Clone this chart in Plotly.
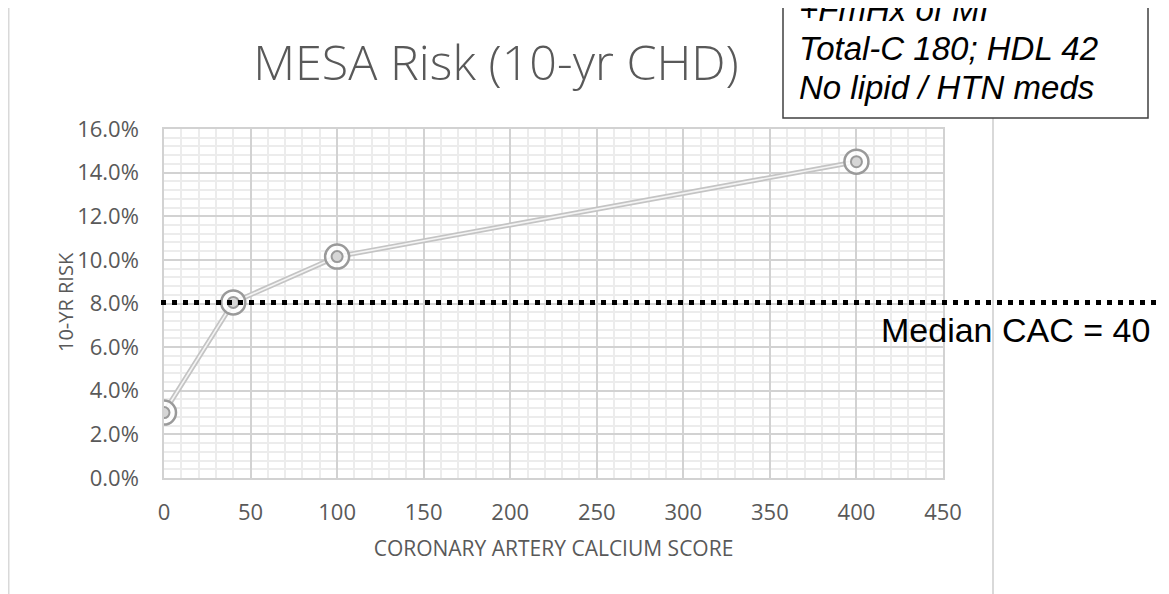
import plotly.graph_objects as go

# ---- data ----
cac_scores = [0, 40, 100, 400]
risk_10yr = [0.030, 0.0805, 0.1015, 0.145]
median_line_risk = 0.0805
median_label = "Median CAC = 40"
info_lines = ["+FmHx of MI", "Total-C 180; HDL 42", "No lipid / HTN meds"]
chart_title = "MESA Risk (10-yr CHD)"
x_title = "CORONARY ARTERY CALCIUM SCORE"
y_title = "10-YR RISK"

OFF = 8  # page body margin
W, H = 1169 - OFF, 594 - OFF
L, R, T, B = 164 - OFF, 943 - OFF, 129 - OFF, 478 - OFF  # plot area pixels


def px(xpix):
    return (xpix - OFF - L) / (R - L)


def py(ypix):
    return (B - (ypix - OFF)) / (B - T)


grey_txt = "#595959"
fig = go.Figure()

# double-line effect
fig.add_trace(go.Scatter(x=cac_scores, y=risk_10yr, mode="lines",
                         line=dict(color="#c4c4c4", width=5), hoverinfo="skip", showlegend=False))
fig.add_trace(go.Scatter(x=cac_scores, y=risk_10yr, mode="lines",
                         line=dict(color="#f4f4f4", width=1.6), hoverinfo="skip", showlegend=False))
# concentric ring markers
fig.add_trace(go.Scatter(x=cac_scores, y=risk_10yr, mode="markers",
                         marker=dict(symbol="circle", size=24, color="rgba(255,255,255,0.85)",
                                     line=dict(color="#9a9a9a", width=2.5)),
                         showlegend=False))
fig.add_trace(go.Scatter(x=cac_scores, y=risk_10yr, mode="markers",
                         marker=dict(symbol="circle", size=11, color="#d6d6d6",
                                     line=dict(color="#9a9a9a", width=2)),
                         showlegend=False))

shapes = [
    # outer chart frame
    dict(type="rect", xref="paper", yref="paper", x0=px(8.5), x1=px(993), y0=-0.6, y1=py(7),
         line=dict(color="#d9d9d9", width=2), fillcolor="rgba(0,0,0,0)", layer="above"),
    # dotted median line
    dict(type="line", xref="paper", yref="y", x0=px(161), x1=1.35,
         y0=median_line_risk, y1=median_line_risk,
         line=dict(color="black", width=5, dash="5px,6px"), layer="above"),
    # info box
    dict(type="rect", xref="paper", yref="paper", x0=px(783), x1=px(1148), y0=py(118), y1=py(-20),
         line=dict(color="#404040", width=1.5), fillcolor="white", layer="above"),
]

annotations = [
    dict(xref="paper", yref="paper", x=px(879), y=py(330), xanchor="left", yanchor="middle",
         text=median_label, showarrow=False,
         font=dict(family="Liberation Sans, Arial", size=34, color="black")),
    # y axis title
    dict(xref="paper", yref="paper", x=px(65), y=py(302), xanchor="center", yanchor="middle",
         text=y_title, textangle=-90, showarrow=False,
         font=dict(family="Open Sans", size=20, color=grey_txt)),
]
info_centers = [9, 48, 87]
for line_txt, yc in zip(info_lines, info_centers):
    annotations.append(dict(xref="paper", yref="paper", x=px(797), y=py(yc),
                            xanchor="left", yanchor="middle", align="left",
                            text=f"<i>{line_txt}</i>", showarrow=False,
                            font=dict(family="Liberation Sans, Arial", size=33, color="black")))

fig.update_layout(
    width=W, height=H,
    margin=dict(l=L, r=W - R, t=T, b=H - B, pad=0),
    paper_bgcolor="white", plot_bgcolor="white",
    title=dict(text=chart_title, x=px(496), xref="paper", xanchor="center",
               y=1 - (63 - OFF) / H, yref="container", yanchor="middle",
               font=dict(family="Open Sans", size=48.5, color=grey_txt, weight=300)),
    shapes=shapes, annotations=annotations,
    showlegend=False,
)

axis_common = dict(showline=True, mirror=True, linecolor="#d2d2d2", linewidth=1.5,
                   gridcolor="#d2d2d2", gridwidth=1.5, zeroline=False, ticks="",
                   tickfont=dict(family="Open Sans", size=22, color=grey_txt))

fig.update_xaxes(range=[0, 450], dtick=50, tick0=0, ticklabelstandoff=14,
                 minor=dict(dtick=10, showgrid=True, gridcolor="#ececec", gridwidth=1.5),
                 title=dict(text=x_title, standoff=16,
                            font=dict(family="Open Sans", size=21, color=grey_txt)),
                 **axis_common)
fig.update_yaxes(range=[0, 0.16], dtick=0.02, tick0=0, tickformat=".1%", ticklabelstandoff=19,
                 minor=dict(dtick=0.004, showgrid=True, gridcolor="#ececec", gridwidth=1.5),
                 **axis_common)

fig.write_html("out.html")
